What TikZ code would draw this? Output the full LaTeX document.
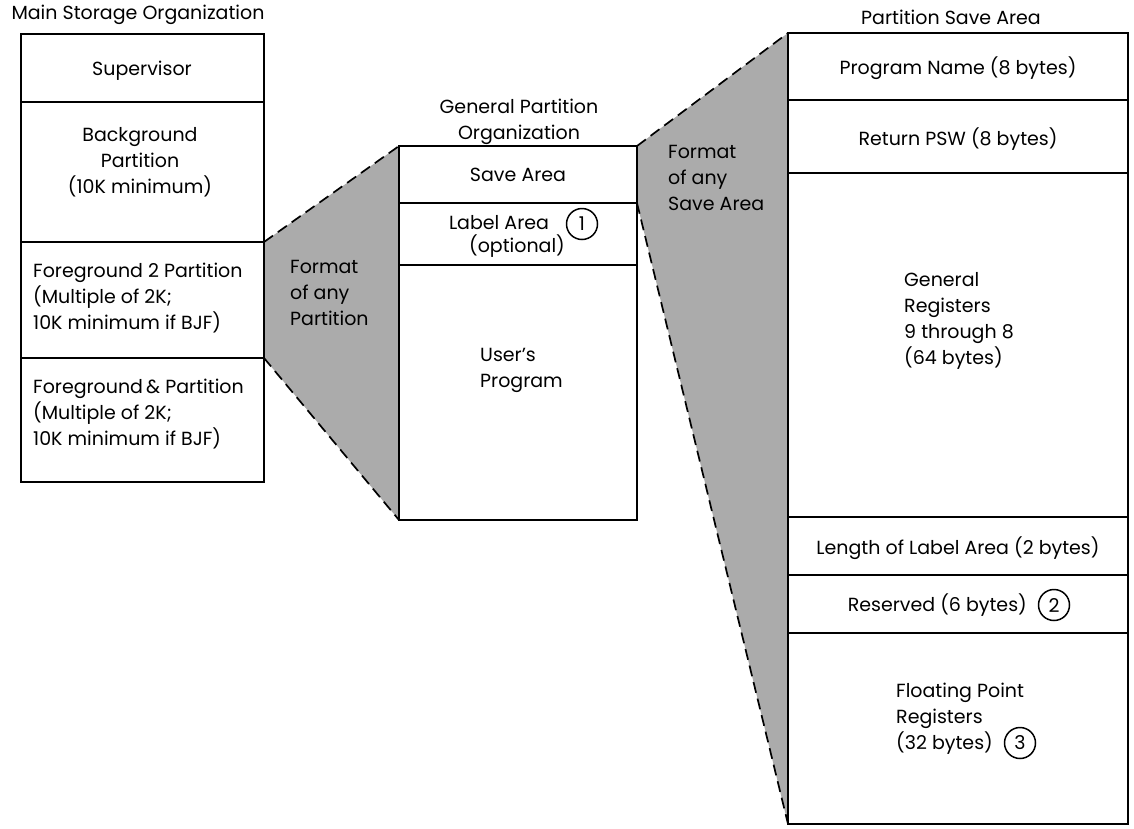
\documentclass[tikz,border=0pt]{standalone}
\usepackage{fontspec}
\setmainfont{Poppins}
\usetikzlibrary{backgrounds}
\begin{document}
\begin{tikzpicture}[x=1pt,y=-1pt,
  every node/.style={font=\fontsize{19}{26}\selectfont, inner sep=0pt},
  cell/.style={draw, line width=2.5pt, anchor=north west, outer sep=0pt},
  zoomline/.style={line width=1.7pt, dash pattern=on 11pt off 6pt},
  halftone/.style={fill=black!33},
  txt/.style={align=center},
  ltxt/.style={align=left, anchor=west},
  num/.style={circle, draw, line width=1.5pt, minimum size=31pt}
]
\useasboundingbox (0,0) rectangle (1134,828);

% ---- Main storage organization ----
\node[cell, minimum width=243pt, minimum height=68pt]  (sup) at (21,34)  {};
\node[cell, minimum width=243pt, minimum height=140pt] (bg)  at (21,102) {};
\node[cell, minimum width=243pt, minimum height=116pt] (fg2) at (21,242) {};
\node[cell, minimum width=243pt, minimum height=124pt] (fg1) at (21,358) {};

\node (t1) at (138,15) {Main Storage Organization};
\node[txt] (tsup) at (142,71) {Supervisor};
\node[txt] (tbg) at (140,162) {Background\\Partition\\(10K minimum)};
\node[ltxt] (tfg2) at (33,298) {Foreground 2 Partition\\(Multiple of 2K;\\10K minimum if BJF)};
\node[ltxt] (tfg1) at (33,414) {Foreground\,\& Partition\\(Multiple of 2K;\\10K minimum if BJF)};

% ---- General partition organization ----
\node[cell, minimum width=238pt, minimum height=57pt]  (save)  at (399,146) {};
\node[cell, minimum width=238pt, minimum height=62pt]  (label) at (399,203) {};
\node[cell, minimum width=238pt, minimum height=255pt] (user)  at (399,265) {};

\node[txt] (t2) at (519,122) {General Partition\\Organization};
\node[txt] (tsave) at (518,175) {Save Area};
\node (tlabel) at (499,223) {Label Area};
\node[num] (n1) at (582,224) {1};
\node (topt) at (517,246) {(optional)};
\node[ltxt] (tuser) at (480,370) {User{\char"0027}s\\Program};

% ---- Partition save area ----
\node[cell, minimum width=340pt, minimum height=67pt]  (pname) at (788,33)  {};
\node[cell, minimum width=340pt, minimum height=73pt]  (psw)   at (788,100) {};
\node[cell, minimum width=340pt, minimum height=344pt] (gr)    at (788,173) {};
\node[cell, minimum width=340pt, minimum height=58pt]  (len)   at (788,517) {};
\node[cell, minimum width=340pt, minimum height=58pt]  (res)   at (788,575) {};
\node[cell, minimum width=340pt, minimum height=191pt] (fpr)   at (788,633) {};

\node (t3) at (951,17) {Partition Save Area};
\node (tpname) at (958,68) {Program Name (8 bytes)};
\node (tpsw) at (958,139) {Return PSW (8 bytes)};
\node[ltxt] (tgr) at (904,321) {General\\Registers\\9 through 8\\(64 bytes)};
\node (tlen) at (958,548) {Length of Label Area (2 bytes)};
\node[anchor=east] (tres) at (1027,605) {Reserved (6 bytes)};
\node[num] (n2) at (1054,605) {2};
\node[ltxt] (tfpr) at (896,719) {Floating Point\\Registers\\(32 bytes)};
\node[num] (n3) at (1020,743) {3};

% ---- expansion wedges ----
\begin{scope}[on background layer]
  \fill[halftone] (bg.south east) -- (save.north west) -- (user.south west) -- (fg2.south east) -- cycle;
  \fill[halftone] (save.north east) -- (pname.north west) -- (fpr.south west) -- (save.south east) -- cycle;
\end{scope}
\draw[zoomline] (bg.south east) -- (save.north west);
\draw[zoomline] (fg2.south east) -- (user.south west);
\draw[zoomline] (save.north east) -- (pname.north west);
\draw[zoomline] (save.south east) -- (fpr.south west);

\node[ltxt] (w1) at (290,293) {Format\\of any\\Partition};
\node[ltxt] (w2) at (668,178) {Format\\of any\\Save Area};
\end{tikzpicture}
\end{document}
